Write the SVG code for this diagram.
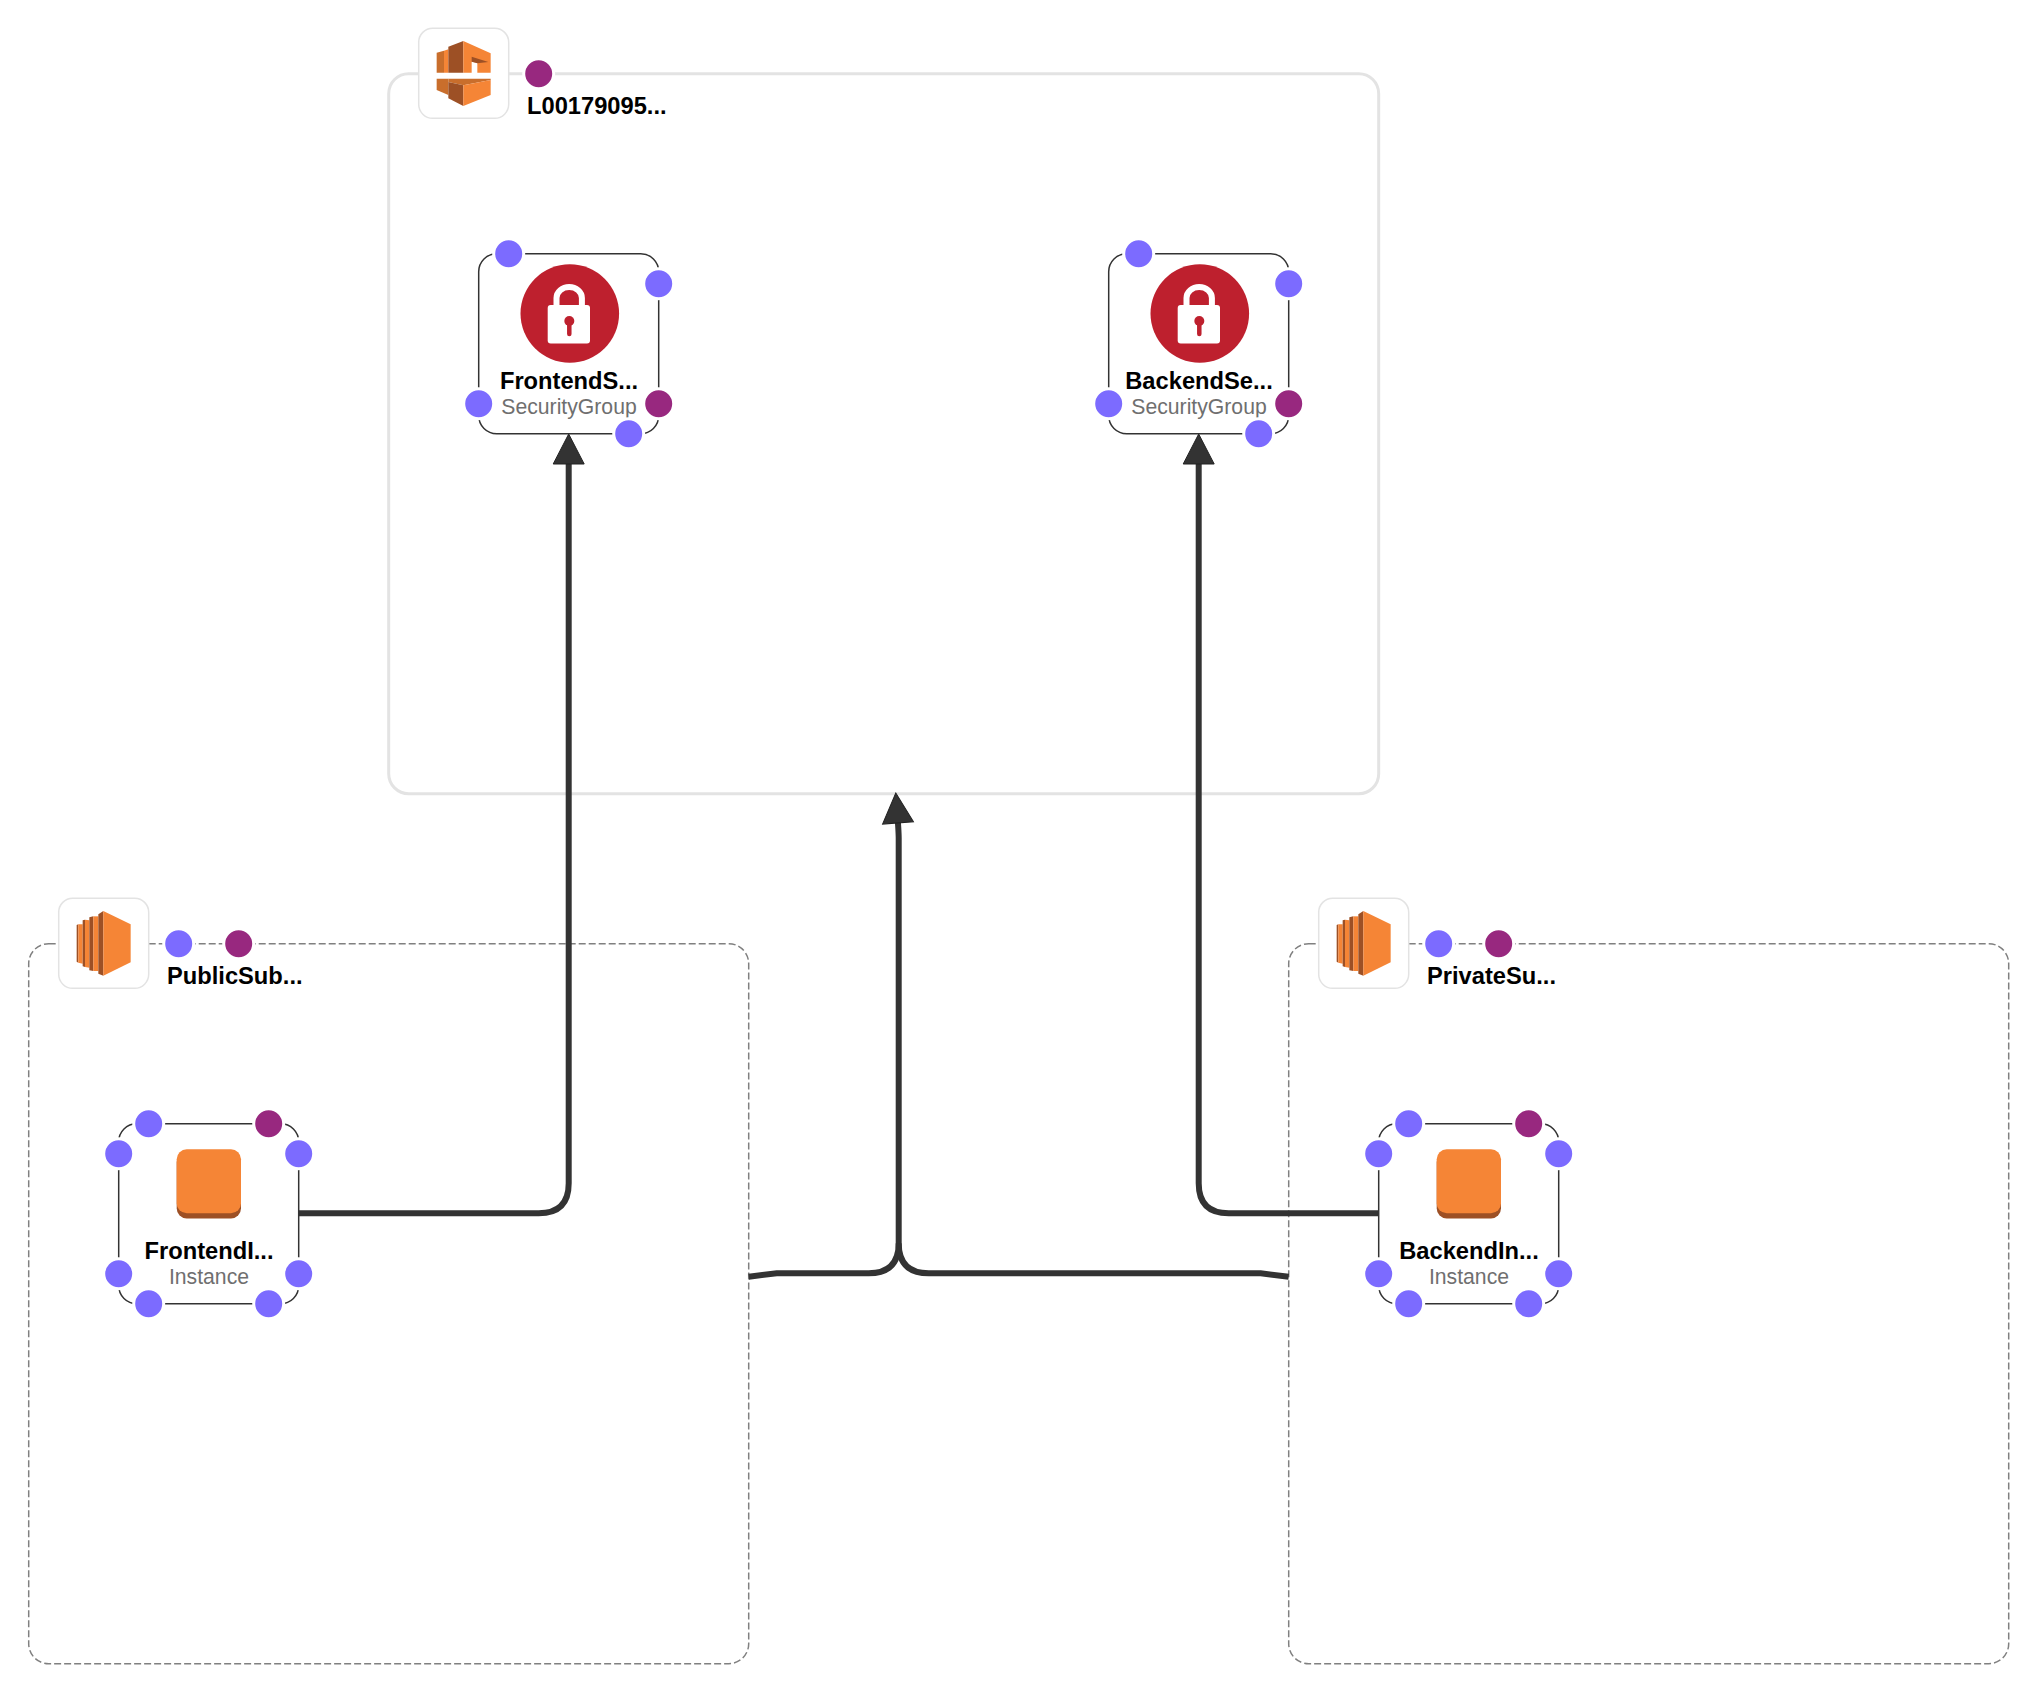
<svg xmlns="http://www.w3.org/2000/svg" width="2037" height="1692" viewBox="0 0 2037 1692">
<style>
text{font-family:"Liberation Sans",Arial,sans-serif}
.name{font-size:23.7px;font-weight:700;fill:#000}
.mid{text-anchor:middle}
.type{font-size:21.2px;fill:#6f6f6f;text-anchor:middle}
.vpc{fill:none;stroke:#e3e3e3;stroke-width:3}
.subnet{fill:none;stroke:#808080;stroke-width:1.5;stroke-dasharray:7 3}
.res{fill:none;stroke:#333;stroke-width:1.5}
.box{fill:#fff;stroke:#e3e3e3;stroke-width:1.5}
.p{stroke:#fff;stroke-width:3;r:15px}
.b{fill:#7c6bff}
.m{fill:#98287f}
.conn{fill:none;stroke:#333;stroke-width:6}
.o{fill:#f58536}.d{fill:#9d5025}.c{fill:#c96e2c}
</style>
<defs>
<marker id="arrow" markerUnits="userSpaceOnUse" markerWidth="34" markerHeight="34" refX="15" refY="17" orient="auto" viewBox="0 0 34 34">
<polygon points="31,17 1,1.5 1,32.5" fill="#333" stroke="#222" stroke-width="1"/>
</marker>
<g id="ec2">
<polygon class="d" points="200,120 205,118 205,233 200,230"/>
<polygon class="o" points="205,118 218,118 218,236 205,233"/>
<polygon class="d" points="218,106 225,104 225,246 218,244"/>
<polygon class="o" points="225,104 238,106 238,248 225,246"/>
<polygon class="d" points="238,97 250,94 250,258 238,256"/>
<polygon class="o" points="250,94 265,94 265,258 250,258"/>
<polygon class="d" points="265,88 280,78 280,272 265,266"/>
<polygon class="o" points="280,78 362,118 362,232 280,272"/>
</g>
<g id="lock">
<circle cx="569.8" cy="313.5" r="49.3" fill="#be202e"/>
<rect x="547.7" y="305" width="42.3" height="38.5" rx="3" fill="#fff"/>
<path d="M556.5 306V298a12.7 11 0 0 1 25.4 0V306" fill="none" stroke="#fff" stroke-width="6"/>
<circle cx="569.3" cy="321" r="5" fill="#be202e"/>
<path d="M569.3 321V334" stroke="#be202e" stroke-width="4.5" stroke-linecap="round"/>
</g>
<g id="inst">
<rect x="176.7" y="1152" width="64.3" height="66.5" rx="10" class="d"/>
<rect x="176.7" y="1149.3" width="64.3" height="64" rx="10" class="o"/>
</g>
</defs>

<g id="vpc">
<rect class="vpc" x="388.7" y="73.7" width="990" height="720" rx="20"/>
<rect class="box" x="418.7" y="28.3" width="90" height="90" rx="14"/>
<g transform="translate(380 10) scale(.33333)">
<polygon class="c" points="170,128 192,122 192,188 170,188"/>
<polygon class="o" points="192,122 205,118 205,188 192,188"/>
<polygon class="d" points="205,110 250,93 250,188 205,188"/>
<polygon class="o" points="250,93 332,130 332,188 292,188 292,158 275,155 275,188 250,188"/>
<polygon class="d" points="275,140 325,156 292,160 275,155"/>
<polygon class="c" points="170,206 205,206 205,255 170,240"/>
<polygon class="c" points="205,206 332,206 332,210 250,226 205,216"/>
<polygon class="d" points="205,216 250,226 250,288 205,265"/>
<polygon class="o" points="250,226 332,210 332,255 250,288"/>
</g>
<circle class="p m" cx="538.7" cy="73.7"/>
<text class="name" x="527" y="114">L00179095...</text>
</g>

<g id="public-subnet">
<rect class="subnet" x="28.7" y="943.7" width="720" height="720" rx="20"/>
<rect class="box" x="58.7" y="898.3" width="90" height="90" rx="14"/>
<use href="#ec2" transform="translate(10 885) scale(.33333)"/>
<circle class="p b" cx="178.7" cy="943.7"/>
<circle class="p m" cx="238.7" cy="943.7"/>
<text class="name" x="167" y="984">PublicSub...</text>
</g>

<g id="private-subnet" transform="translate(1260 0)">
<rect class="subnet" x="28.7" y="943.7" width="720" height="720" rx="20"/>
<rect class="box" x="58.7" y="898.3" width="90" height="90" rx="14"/>
<use href="#ec2" transform="translate(10 885) scale(.33333)"/>
<circle class="p b" cx="178.7" cy="943.7"/>
<circle class="p m" cx="238.7" cy="943.7"/>
<text class="name" x="167" y="984">PrivateSu...</text>
</g>

<g id="connectors">
<path class="conn" marker-end="url(#arrow)" d="M298.7 1213.3H538.7Q568.7 1213.3 568.7 1183.3V450"/>
<path class="conn" marker-end="url(#arrow)" d="M1378.7 1213.3H1228.7Q1198.7 1213.3 1198.7 1183.3V450"/>
<path class="conn" marker-end="url(#arrow)" d="M748.7 1276.7L776.7 1273.3H868.7Q898.7 1273.3 898.7 1243.3V838Q898.7 832 897 809"/>
<path class="conn" d="M1288.7 1276.7L1260.7 1273.3H928.7Q898.7 1273.3 898.7 1243.3"/>
</g>

<g id="frontend-sg">
<rect class="res" x="478.7" y="253.7" width="180" height="180" rx="18"/>
<use href="#lock"/>
<text class="name mid" x="569" y="389">FrontendS...</text>
<text class="type" x="569" y="414">SecurityGroup</text>
<circle class="p b" cx="508.7" cy="253.7"/>
<circle class="p b" cx="658.7" cy="283.7"/>
<circle class="p b" cx="478.7" cy="403.7"/>
<circle class="p m" cx="658.7" cy="403.7"/>
<circle class="p b" cx="628.7" cy="433.7"/>
</g>

<g id="backend-sg" transform="translate(630 0)">
<rect class="res" x="478.7" y="253.7" width="180" height="180" rx="18"/>
<use href="#lock"/>
<text class="name mid" x="569" y="389">BackendSe...</text>
<text class="type" x="569" y="414">SecurityGroup</text>
<circle class="p b" cx="508.7" cy="253.7"/>
<circle class="p b" cx="658.7" cy="283.7"/>
<circle class="p b" cx="478.7" cy="403.7"/>
<circle class="p m" cx="658.7" cy="403.7"/>
<circle class="p b" cx="628.7" cy="433.7"/>
</g>

<g id="frontend-instance">
<rect class="res" x="118.7" y="1123.7" width="180" height="180" rx="18"/>
<use href="#inst"/>
<text class="name mid" x="209" y="1259">FrontendI...</text>
<text class="type" x="209" y="1284">Instance</text>
<circle class="p b" cx="148.7" cy="1123.7"/>
<circle class="p m" cx="268.7" cy="1123.7"/>
<circle class="p b" cx="118.7" cy="1153.7"/>
<circle class="p b" cx="298.7" cy="1153.7"/>
<circle class="p b" cx="118.7" cy="1273.7"/>
<circle class="p b" cx="298.7" cy="1273.7"/>
<circle class="p b" cx="148.7" cy="1303.7"/>
<circle class="p b" cx="268.7" cy="1303.7"/>
</g>

<g id="backend-instance" transform="translate(1260 0)">
<rect class="res" x="118.7" y="1123.7" width="180" height="180" rx="18"/>
<use href="#inst"/>
<text class="name mid" x="209" y="1259">BackendIn...</text>
<text class="type" x="209" y="1284">Instance</text>
<circle class="p b" cx="148.7" cy="1123.7"/>
<circle class="p m" cx="268.7" cy="1123.7"/>
<circle class="p b" cx="118.7" cy="1153.7"/>
<circle class="p b" cx="298.7" cy="1153.7"/>
<circle class="p b" cx="118.7" cy="1273.7"/>
<circle class="p b" cx="298.7" cy="1273.7"/>
<circle class="p b" cx="148.7" cy="1303.7"/>
<circle class="p b" cx="268.7" cy="1303.7"/>
</g>
</svg>
